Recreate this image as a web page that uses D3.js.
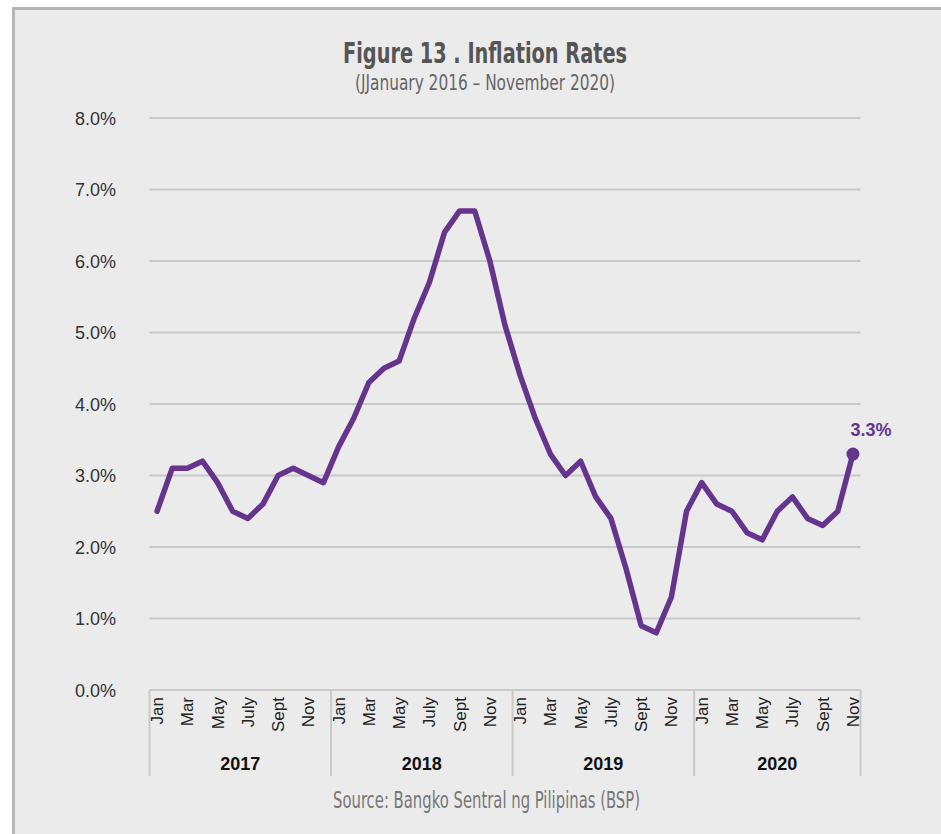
<!DOCTYPE html>
<html>
<head>
<meta charset="utf-8">
<script src="https://cdn.jsdelivr.net/npm/d3@7"></script>
<style>
  html, body { margin: 0; padding: 0; background: #ffffff; }
  svg { display: block; }
</style>
</head>
<body>
<svg id="chart" width="941" height="834"></svg>
<script>
// Monthly headline inflation, Jan 2017 – Nov 2020 (%)
const years = ["2017", "2018", "2019", "2020"];
const monthNames = ["Jan", "Feb", "Mar", "Apr", "May", "Jun", "July", "Aug", "Sept", "Oct", "Nov", "Dec"];
const labelledMonths = ["Jan", "Mar", "May", "July", "Sept", "Nov"];
const rates2017 = [2.5, 3.1, 3.1, 3.2, 2.9, 2.5, 2.4, 2.6, 3.0, 3.1, 3.0, 2.9];
const rates2018 = [3.4, 3.8, 4.3, 4.5, 4.6, 5.2, 5.7, 6.4, 6.7, 6.7, 6.0, 5.1];
const rates2019 = [4.4, 3.8, 3.3, 3.0, 3.2, 2.7, 2.4, 1.7, 0.9, 0.8, 1.3, 2.5];
const rates2020 = [2.9, 2.6, 2.5, 2.2, 2.1, 2.5, 2.7, 2.4, 2.3, 2.5, 3.3];
const yTicks = [0, 1, 2, 3, 4, 5, 6, 7, 8];

const series = [rates2017, rates2018, rates2019, rates2020];
const data = [];
series.forEach((vals, yi) => {
  vals.forEach((v, mi) => {
    data.push({ key: years[yi] + "-" + mi, year: years[yi], month: monthNames[mi], value: v });
  });
});

const svg = d3.select("#chart");
const W = 941, H = 834;
const purple = "#65358d";
const condensed = "'DejaVu Sans Condensed', 'Liberation Sans Narrow', 'Liberation Sans', sans-serif";
const sans = "'Liberation Sans', Arial, Helvetica, sans-serif";

// panel background with its frame
svg.append("rect")
  .attr("x", 13.5).attr("y", 8.5)
  .attr("width", W + 20).attr("height", H + 20)
  .attr("fill", "#ebebeb")
  .attr("stroke", "#b6b6b6")
  .attr("stroke-width", 3);

const plotLeft = 149.5, plotRight = 860.5, plotTop = 118, plotBottom = 690;

const x = d3.scaleBand()
  .domain(data.map(d => d.key))
  .range([plotLeft, plotRight])
  .paddingInner(0).paddingOuter(0);

const y = d3.scaleLinear().domain([0, 8]).range([plotBottom, plotTop]);

// horizontal gridlines
svg.append("g")
  .selectAll("line")
  .data(yTicks)
  .join("line")
  .attr("x1", plotLeft).attr("x2", plotRight)
  .attr("y1", d => y(d)).attr("y2", d => y(d))
  .attr("stroke", "#c9c9c9")
  .attr("stroke-width", 2);

// y axis labels
const yAxis = d3.axisLeft(y)
  .tickValues(yTicks)
  .tickSize(0)
  .tickPadding(0)
  .tickFormat(d => d3.format(".1f")(d) + "%");
const gy = svg.append("g").attr("transform", "translate(116,0)").call(yAxis);
gy.select(".domain").remove();
gy.selectAll("text")
  .attr("font-family", sans)
  .attr("font-size", 18)
  .attr("fill", "#333333")
  .attr("dy", "0.36em");

// year group separators below the axis
const yearBounds = years.map(yr => {
  const keys = data.filter(d => d.year === yr).map(d => d.key);
  return { year: yr, x0: x(keys[0]), x1: x(keys[keys.length - 1]) + x.bandwidth() };
});
const sepX = [yearBounds[0].x0].concat(yearBounds.map(b => b.x1));
svg.append("g")
  .selectAll("line")
  .data(sepX)
  .join("line")
  .attr("x1", d => d).attr("x2", d => d)
  .attr("y1", plotBottom).attr("y2", 776)
  .attr("stroke", "#c9c9c9")
  .attr("stroke-width", 2);

// month labels (rotated)
svg.append("g")
  .selectAll("text")
  .data(data.filter(d => labelledMonths.includes(d.month)))
  .join("text")
  .attr("transform", d => `translate(${x(d.key) + x.bandwidth() / 2 + 6},697) rotate(-90)`)
  .attr("text-anchor", "end")
  .attr("font-family", sans)
  .attr("font-size", 17)
  .attr("fill", "#222222")
  .text(d => d.month);

// year labels
svg.append("g")
  .selectAll("text")
  .data(yearBounds)
  .join("text")
  .attr("x", d => (d.x0 + d.x1) / 2)
  .attr("y", 770)
  .attr("text-anchor", "middle")
  .attr("font-family", sans)
  .attr("font-weight", "bold")
  .attr("font-size", 18)
  .attr("fill", "#111111")
  .text(d => d.year);

// inflation line
const cx = d => x(d.key) + x.bandwidth() / 2;
const line = d3.line().x(cx).y(d => y(d.value));
svg.append("path")
  .datum(data)
  .attr("d", line)
  .attr("fill", "none")
  .attr("stroke", purple)
  .attr("stroke-width", 5.5)
  .attr("stroke-linejoin", "round")
  .attr("stroke-linecap", "round");

// latest reading marker and label
const last = data[data.length - 1];
svg.append("circle")
  .attr("cx", cx(last)).attr("cy", y(last.value))
  .attr("r", 6.5)
  .attr("fill", purple);
svg.append("text")
  .attr("x", cx(last) + 18)
  .attr("y", y(last.value) - 18)
  .attr("text-anchor", "middle")
  .attr("font-family", sans)
  .attr("font-weight", "bold")
  .attr("font-size", 18)
  .attr("fill", purple)
  .text(d3.format(".1f")(last.value) + "%");

// titles
svg.append("text")
  .attr("x", 485).attr("y", 63)
  .attr("text-anchor", "middle")
  .attr("font-family", condensed)
  .attr("font-weight", "bold")
  .attr("font-size", 29)
  .attr("fill", "#555555")
  .attr("textLength", 284)
  .attr("lengthAdjust", "spacingAndGlyphs")
  .text("Figure 13 . Inflation Rates");
svg.append("text")
  .attr("x", 485).attr("y", 90)
  .attr("text-anchor", "middle")
  .attr("font-family", condensed)
  .attr("font-size", 22)
  .attr("fill", "#666666")
  .attr("textLength", 260)
  .attr("lengthAdjust", "spacingAndGlyphs")
  .text("(JJanuary 2016 – November 2020)");

svg.append("text")
  .attr("x", 486.5).attr("y", 808)
  .attr("text-anchor", "middle")
  .attr("font-family", condensed)
  .attr("font-size", 22.5)
  .attr("fill", "#777777")
  .attr("textLength", 307)
  .attr("lengthAdjust", "spacingAndGlyphs")
  .text("Source: Bangko Sentral ng Pilipinas (BSP)");
</script>
</body>
</html>
